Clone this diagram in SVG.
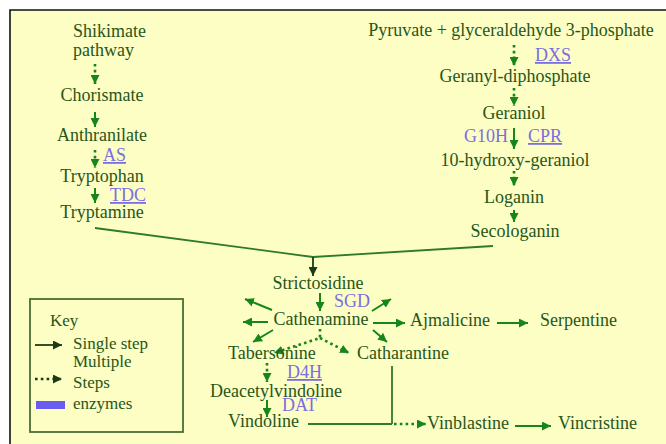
<svg xmlns="http://www.w3.org/2000/svg" width="666" height="444" viewBox="0 0 666 444">
  <defs>
    <style>
      .t { font-family: "Liberation Serif", "Times New Roman", serif; font-size: 18px; fill: #28561a; }
      .c { text-anchor: middle; }
      .e { font-family: "Liberation Serif", "Times New Roman", serif; font-size: 18px; fill: #7a6ee0; }
      .u { text-decoration: underline; }
      .k { font-family: "Liberation Serif", "Times New Roman", serif; font-size: 17px; fill: #28561a; }
      .a { stroke: #16861a; stroke-width: 2; fill: none; marker-end: url(#head); }
      .d { stroke: #16861a; stroke-width: 2.6; fill: none; stroke-dasharray: 2.6 3.2; marker-end: url(#head); }
      .ln { stroke: #2e7a2a; stroke-width: 1.8; fill: none; }
      .ak { stroke: #1c3a18; stroke-width: 1.8; fill: none; marker-end: url(#headDark); }
      .dk { stroke: #1c3a18; stroke-width: 2.6; fill: none; stroke-dasharray: 2.6 3.2; marker-end: url(#headDark); }
    </style>
    <marker id="head" viewBox="0 0 10 10" refX="10" refY="5" markerWidth="9" markerHeight="9" markerUnits="userSpaceOnUse" orient="auto">
      <path d="M0,0 L10,5 L0,10 z" fill="#16861a"/>
    </marker>
    <marker id="headDark" viewBox="0 0 10 10" refX="10" refY="5" markerWidth="9" markerHeight="9" markerUnits="userSpaceOnUse" orient="auto">
      <path d="M0,0 L10,5 L0,10 z" fill="#1c3a18"/>
    </marker>
  </defs>

  <!-- page and frame -->
  <rect x="0" y="0" width="666" height="444" fill="#ffffff"/>
  <rect x="10" y="10" width="656" height="434" fill="#fdfec4"/>
  <path d="M10,444 L10,10 L666,10" stroke="#111111" stroke-width="1.6" fill="none"/>

  <!-- connectors -->
  <g id="connectors">
    <!-- shikimate branch -->
    <path class="d" d="M95,64 L95,84"/>
    <path class="a" d="M95,112 L95,127"/>
    <path class="d" d="M95,150 L95,168"/>
    <path class="a" d="M95,188 L95,203"/>
    <!-- terpenoid branch -->
    <path class="d" d="M514,45 L514,66"/>
    <path class="d" d="M514,88 L514,106"/>
    <path class="a" d="M514,128 L514,149"/>
    <path class="d" d="M514,171 L514,186"/>
    <path class="a" d="M514,210 L514,222"/>
    <!-- condensation to strictosidine -->
    <path class="ln" d="M95,228 L313,257 L493,246"/>
    <path class="ak" d="M313,257 L313,276"/>
    <!-- strictosidine to cathenamine -->
    <path class="a" d="M320,293 L320,311"/>
    <!-- cathenamine fan -->
    <path class="a" d="M272,310 L245,299"/>
    <path class="a" d="M268,322 L243,322"/>
    <path class="a" d="M273,330 L253,342"/>
    <path class="a" d="M372,311 L391,299"/>
    <path class="a" d="M373,323 L405,323"/>
    <path class="a" d="M373,330 L387,342"/>
    <path class="d" d="M320,329 L320,338 L274,353"/>
    <path class="d" d="M320,338 L349,353"/>
    <!-- vindoline branch -->
    <path class="d" d="M267,363 L267,382"/>
    <path class="a" d="M267,400 L267,417"/>
    <!-- side products -->
    <path class="a" d="M497,323 L528,323"/>
    <!-- dimerisation -->
    <path class="ln" d="M308,424 L392,424 M392,366 L392,424"/>
    <path class="d" d="M394,424 L426,424"/>
    <path class="a" d="M515,426 L551,426"/>
  </g>

  <!-- shikimate branch nodes -->
  <g id="shikimate">
    <text class="t" x="73" y="37">Shikimate</text>
    <text class="t" x="73" y="56">pathway</text>
  </g>
  <g id="chorismate"><text class="t c" x="102" y="101">Chorismate</text></g>
  <g id="anthranilate"><text class="t c" x="102" y="141">Anthranilate</text></g>
  <g id="enz-as"><text class="e u" x="103" y="161">AS</text></g>
  <g id="tryptophan"><text class="t c" x="102" y="182">Tryptophan</text></g>
  <g id="enz-tdc"><text class="e u" x="110" y="201">TDC</text></g>
  <g id="tryptamine"><text class="t c" x="102" y="218">Tryptamine</text></g>

  <!-- terpenoid branch nodes -->
  <g id="pyruvate"><text class="t c" x="511" y="36">Pyruvate + glyceraldehyde 3-phosphate</text></g>
  <g id="enz-dxs"><text class="e u" x="535" y="61">DXS</text></g>
  <g id="gpp"><text class="t c" x="515" y="82">Geranyl-diphosphate</text></g>
  <g id="geraniol"><text class="t c" x="514" y="119">Geraniol</text></g>
  <g id="enz-g10h"><text class="e" x="464" y="142">G10H</text></g>
  <g id="enz-cpr"><text class="e u" x="528" y="142">CPR</text></g>
  <g id="hydroxygeraniol"><text class="t c" x="515" y="166">10-hydroxy-geraniol</text></g>
  <g id="loganin"><text class="t c" x="514" y="203">Loganin</text></g>
  <g id="secologanin"><text class="t c" x="515" y="237">Secologanin</text></g>

  <!-- alkaloid nodes -->
  <g id="strictosidine"><text class="t c" x="318" y="289">Strictosidine</text></g>
  <g id="enz-sgd"><text class="e" x="334" y="307">SGD</text></g>
  <g id="cathenamine"><text class="t c" x="321" y="325">Cathenamine</text></g>
  <g id="ajmalicine"><text class="t" x="410" y="326">Ajmalicine</text></g>
  <g id="serpentine"><text class="t" x="540" y="326">Serpentine</text></g>
  <g id="tabersonine"><text class="t" x="228" y="359">Tabersonine</text></g>
  <g id="catharantine"><text class="t" x="357" y="359">Catharantine</text></g>
  <g id="enz-d4h"><text class="e u" x="287" y="378">D4H</text></g>
  <g id="deacetylvindoline"><text class="t" x="210" y="397">Deacetylvindoline</text></g>
  <g id="enz-dat"><text class="e" x="282" y="411">DAT</text></g>
  <g id="vindoline"><text class="t" x="228" y="427">Vindoline</text></g>
  <g id="vinblastine"><text class="t" x="427" y="429">Vinblastine</text></g>
  <g id="vincristine"><text class="t" x="558" y="429">Vincristine</text></g>

  <!-- legend -->
  <g id="key">
    <rect x="30" y="299" width="153" height="133" fill="none" stroke="#4a6e33" stroke-width="1.8"/>
    <text class="k" x="50" y="326">Key</text>
    <path class="ak" d="M35,345 L62,345"/>
    <text class="k" x="73" y="349">Single step</text>
    <text class="k" x="73" y="367">Multiple</text>
    <path class="dk" d="M35,379 L62,379"/>
    <text class="k" x="73" y="388">Steps</text>
    <rect x="36" y="401" width="29" height="8" fill="#6a5cf0"/>
    <text class="k" x="73" y="409">enzymes</text>
  </g>
</svg>
